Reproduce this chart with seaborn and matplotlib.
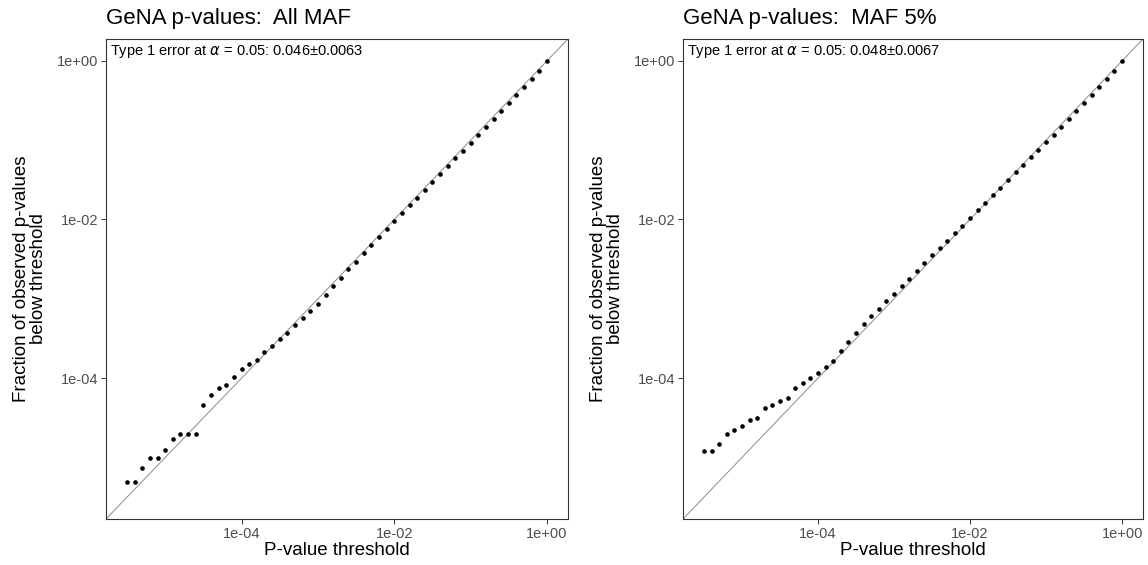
import numpy as np
import pandas as pd
import matplotlib
matplotlib.use("Agg")
import matplotlib.pyplot as plt
import seaborn as sns

# ---- data (log10 values) ----
threshold_log10 = [-5.5, -5.4, -5.3, -5.2, -5.1, -5.0, -4.9, -4.8, -4.7, -4.6,
                   -4.5, -4.4, -4.3, -4.2, -4.1, -4.0, -3.9, -3.8, -3.7, -3.6,
                   -3.5, -3.4, -3.3, -3.2, -3.1, -3.0, -2.9, -2.8, -2.7, -2.6,
                   -2.5, -2.4, -2.3, -2.2, -2.1, -2.0, -1.9, -1.8, -1.7, -1.6,
                   -1.5, -1.4, -1.3, -1.2, -1.1, -1.0, -0.9, -0.8, -0.7, -0.6,
                   -0.5, -0.4, -0.3, -0.2, -0.1, 0.0]

all_maf_log10 = [-5.31, -5.31, -5.135, -5.01, -5.01, -4.91, -4.765, -4.706, -4.706, -4.706,
                 -4.332, -4.211, -4.130, -4.088, -3.983, -3.890, -3.819, -3.769, -3.676, -3.596,
                 -3.508, -3.433, -3.336, -3.243, -3.155, -3.071, -2.95, -2.836, -2.739, -2.630,
                 -2.534, -2.419, -2.323, -2.226, -2.121, -2.024, -1.923, -1.822, -1.726, -1.625,
                 -1.528, -1.427, -1.330, -1.229, -1.134, -1.033, -0.932, -0.831, -0.734, -0.637,
                 -0.536, -0.435, -0.335, -0.229, -0.125, 0.0]

maf5_log10 = [-4.912, -4.912, -4.832, -4.706, -4.656, -4.609, -4.530, -4.496, -4.378, -4.332,
              -4.286, -4.248, -4.130, -4.063, -3.996, -3.933, -3.865, -3.782, -3.656, -3.542,
              -3.433, -3.319, -3.218, -3.126, -3.029, -2.935, -2.840, -2.756, -2.651, -2.550,
              -2.453, -2.361, -2.272, -2.175, -2.079, -1.982, -1.885, -1.793, -1.696, -1.600,
              -1.507, -1.406, -1.314, -1.217, -1.121, -1.028, -0.932, -0.835, -0.734, -0.637,
              -0.536, -0.435, -0.335, -0.229, -0.125, 0.0]

panel_titles = ["GeNA p-values:  All MAF", "GeNA p-values:  MAF 5%"]
panel_notes = ["Type 1 error at $\\alpha$ = 0.05: 0.046\u00b10.0063",
               "Type 1 error at $\\alpha$ = 0.05: 0.048\u00b10.0067"]
tick_values = [1e-4, 1e-2, 1e0]
tick_labels = ["1e-04", "1e-02", "1e+00"]

# ---- style ----
sns.set_theme(style="white")
plt.rcParams["font.family"] = ["Liberation Sans", "DejaVu Sans"]
plt.rcParams["mathtext.fontset"] = "dejavusans"

W, H = 1148, 565
fig = plt.figure(figsize=(W / 100, H / 100), dpi=100)
axes_px = [(106, 39, 462, 480), (683, 39, 460, 480)]

lim = (10 ** -5.775, 10 ** 0.275)

for i, (yvals, title, note) in enumerate(zip([all_maf_log10, maf5_log10], panel_titles, panel_notes)):
    x0, y0, w, h = axes_px[i]
    ax = fig.add_axes([x0 / W, (H - y0 - h) / H, w / W, h / H])
    df = pd.DataFrame({"threshold": 10 ** np.array(threshold_log10),
                       "fraction": 10 ** np.array(yvals)})
    ax.set_xscale("log")
    ax.set_yscale("log")
    ax.set_xlim(lim)
    ax.set_ylim(lim)
    ax.axline((1e-3, 1e-3), (1.0, 1.0), color="#8c8c8c", lw=0.7, zorder=1)
    sns.scatterplot(data=df, x="threshold", y="fraction", ax=ax, color="black",
                    s=11, linewidth=0, zorder=3)
    ax.set_xticks(tick_values)
    ax.set_xticklabels(tick_labels)
    ax.set_yticks(tick_values)
    ax.set_yticklabels(tick_labels)
    ax.minorticks_off()
    ax.tick_params(axis="both", which="major", direction="out", length=3.5, width=0.7,
                   color="#333333", labelcolor="#4d4d4d", labelsize=10.5, pad=2,
                   bottom=True, left=True)
    for sp in ax.spines.values():
        sp.set_color("#333333")
        sp.set_linewidth(0.8)
    ax.set_xlabel("P-value threshold", fontsize=13.5, color="black", labelpad=1)
    ax.set_ylabel("Fraction of observed p-values\nbelow threshold", fontsize=13.5,
                  color="black", labelpad=7, linespacing=1.0)
    ax.set_title(title, loc="left", fontsize=16, color="black", pad=11)
    ax.annotate(note, xy=(0, 1), xycoords="axes fraction", xytext=(3, -3),
                textcoords="offset points", ha="left", va="top", fontsize=10.5,
                color="black")

fig.savefig("out.png", dpi=100)
